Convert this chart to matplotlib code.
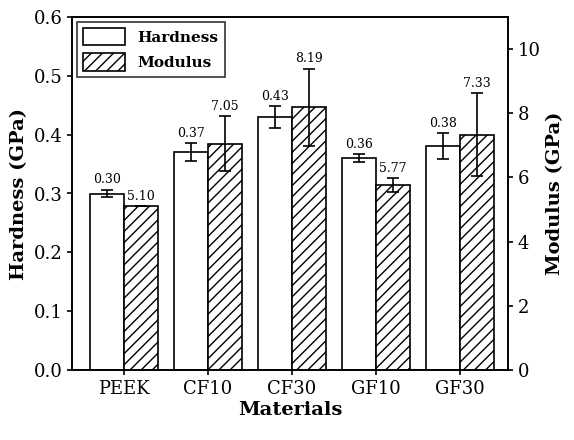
import matplotlib
matplotlib.use("Agg")
import matplotlib.pyplot as plt
import numpy as np

materials = ["PEEK", "CF10", "CF30", "GF10", "GF30"]
hardness = [0.30, 0.37, 0.43, 0.36, 0.38]
hardness_err = [0.006, 0.015, 0.018, 0.007, 0.022]
modulus = [5.10, 7.05, 8.19, 5.77, 7.33]
modulus_err = [0.0, 0.85, 1.2, 0.22, 1.3]

plt.rcParams['font.family'] = ['DejaVu Serif']
plt.rcParams['hatch.linewidth'] = 1.0
fig = plt.figure(figsize=(5.74, 4.4), dpi=100)
ax = fig.add_axes([72/574, 1-370/440, 436/574, 353/440])
ax2 = ax.twinx()
x = np.arange(len(materials))
w = 0.405
b1 = ax.bar(x - w/2, hardness, w, yerr=hardness_err, capsize=4, color='white',
            edgecolor='black', linewidth=1.2, label='Hardness',
            error_kw=dict(elinewidth=1.2, capthick=1.2))
b2 = ax2.bar(x + w/2, modulus, w, yerr=modulus_err, capsize=4, color='white',
             edgecolor='black', hatch='///', linewidth=1.2, label='Modulus',
             error_kw=dict(elinewidth=1.2, capthick=1.2))
for xi, h, e in zip(x, hardness, hardness_err):
    ax.text(xi - w/2, h + e + 0.006, f"{h:.2f}", ha='center', va='bottom', fontsize=9)
for xi, m, e in zip(x, modulus, modulus_err):
    ax2.text(xi + w/2, m + e + 0.1, f"{m:.2f}", ha='center', va='bottom', fontsize=9)
ax.set_xlim(-0.62, 4.57)
ax.set_ylim(0, 0.6)
ax2.set_ylim(0, 11)
ax.set_yticks(np.arange(0, 0.61, 0.1))
ax.set_yticklabels([f"{v:.1f}" for v in np.arange(0, 0.61, 0.1)])
ax2.set_yticks([0, 2, 4, 6, 8, 10])
ax.set_xticks(x)
ax.set_xticklabels(materials)
for a in (ax, ax2):
    a.tick_params(labelsize=13, direction='out', width=1.2)
    for s in a.spines.values():
        s.set_linewidth(1.2)
ax.set_xlabel("Materials", fontsize=14, fontweight='bold', labelpad=2)
ax.set_ylabel("Hardness (GPa)", fontsize=14, fontweight='bold')
ax2.set_ylabel("Modulus (GPa)", fontsize=14, fontweight='bold')
leg = ax.legend([b1, b2], ['Hardness', 'Modulus'], loc='upper left', frameon=True,
                edgecolor='black', fancybox=False, prop={'weight': 'bold', 'size': 11},
                handlelength=2.8, handleheight=1.4, borderaxespad=0.3)
leg.get_frame().set_linewidth(1.2)
fig.savefig("out.png", dpi=100)
